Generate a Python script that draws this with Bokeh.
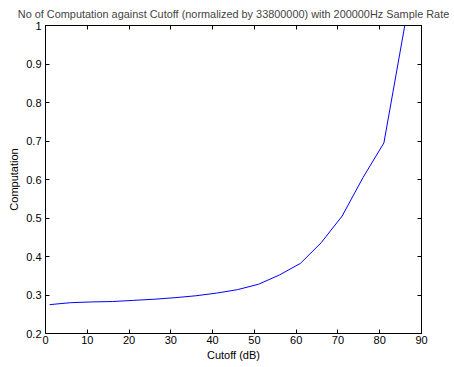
from bokeh.plotting import figure
from bokeh.models import Range1d, FixedTicker, LinearAxis, Title
from bokeh.embed import file_html
from bokeh.resources import INLINE

cutoff_db = [1, 6, 11, 16, 21, 26, 31, 36, 41, 46, 51, 56, 61, 66, 71, 76, 81, 86]
computation = [0.275, 0.280, 0.282, 0.283, 0.286, 0.289, 0.293, 0.298, 0.305, 0.314,
               0.328, 0.352, 0.382, 0.436, 0.505, 0.605, 0.695, 1.0]
x_ticks = [0, 10, 20, 30, 40, 50, 60, 70, 80, 90]
y_ticks = [0.2, 0.3, 0.4, 0.5, 0.6, 0.7, 0.8, 0.9, 1.0]
title_text = "No of Computation against Cutoff (normalized by 33800000) with 200000Hz Sample Rate"

FONT = "Liberation Sans"

p = figure(width=454, height=367, output_backend="svg", toolbar_location=None,
           x_range=Range1d(0, 90), y_range=Range1d(0.2, 1.0),
           min_border_left=45, min_border_right=33, min_border_top=25, min_border_bottom=34)
p.title = None

p.line(cutoff_db, computation, line_color="#0000FF", line_width=1)

p.xgrid.visible = False
p.ygrid.visible = False
p.outline_line_color = "black"
p.outline_line_width = 1
p.background_fill_color = "white"
p.border_fill_color = "white"

def style(ax):
    ax.major_tick_in = 4
    ax.major_tick_out = 0
    ax.minor_tick_in = 0
    ax.minor_tick_out = 0
    ax.axis_line_color = "black"
    ax.major_tick_line_color = "black"
    ax.major_label_text_font = FONT
    ax.major_label_text_font_size = "11px"
    ax.major_label_text_color = "black"
    ax.axis_label_text_font = FONT
    ax.axis_label_text_font_size = "11px"
    ax.axis_label_text_font_style = "normal"
    ax.axis_label_text_color = "black"

xa = p.xaxis[0]
ya = p.yaxis[0]
xa.ticker = FixedTicker(ticks=x_ticks)
ya.ticker = FixedTicker(ticks=y_ticks)
ya.major_label_overrides = {1.0: "1", 1: "1"}
xa.axis_label = "Cutoff (dB)"
ya.axis_label = "Computation"
style(xa)
style(ya)
xa.major_label_standoff = 2
xa.axis_label_standoff = 2
ya.major_label_standoff = 4
ya.axis_label_standoff = 3

top = LinearAxis(ticker=FixedTicker(ticks=x_ticks))
right = LinearAxis(ticker=FixedTicker(ticks=y_ticks))
style(top)
style(right)
top.major_label_overrides = {t: "" for t in x_ticks}
right.major_label_overrides = {t: "" for t in y_ticks}
top.major_label_standoff = 0
right.major_label_standoff = 0
p.add_layout(top, "above")
p.add_layout(right, "right")
p.add_layout(Title(text=title_text, align="center", text_font=FONT, text_font_size="10.9px",
                   text_font_style="normal", standoff=11, offset=0), "above")

open("out.html", "w").write(file_html(p, INLINE))
